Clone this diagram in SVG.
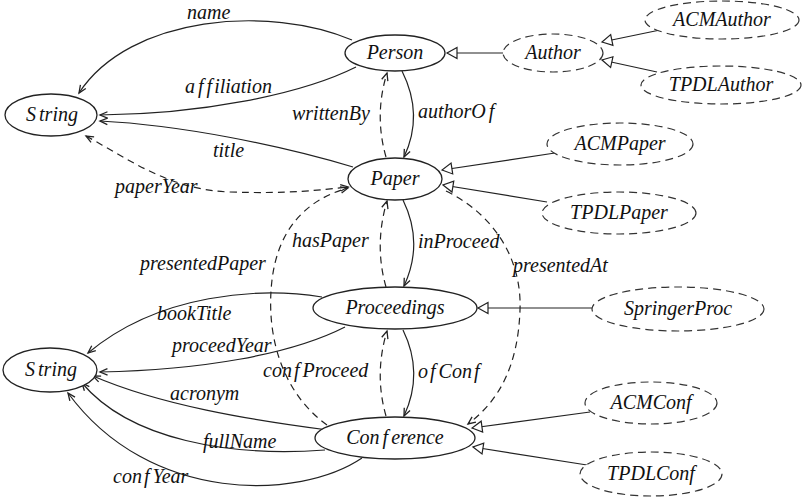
<svg xmlns="http://www.w3.org/2000/svg" width="802" height="498" viewBox="0 0 802 498">
<defs>
<style>
.n{fill:#fff;stroke:#222;stroke-width:1.3}
.d{fill:#fff;stroke:#333;stroke-width:1.2;stroke-dasharray:8 5}
.t{font-family:"Liberation Serif","Times New Roman",serif;font-style:italic;font-size:20px;fill:#111}
.e{fill:none;stroke:#222;stroke-width:1.2}
.ed{fill:none;stroke:#222;stroke-width:1.2;stroke-dasharray:7 5}
.a{marker-end:url(#arr)}
.s{marker-end:url(#tri)}
</style>
<marker id="arr" viewBox="-10 -6 12 12" refX="0" refY="0" markerWidth="12" markerHeight="12" markerUnits="userSpaceOnUse" orient="auto-start-reverse">
<path d="M-7.5,-3.2 L0,0 L-7.5,3.2" fill="none" stroke="#222" stroke-width="1.3" stroke-dasharray="none"/>
</marker>
<marker id="tri" viewBox="-12 -7 14 14" refX="0" refY="0" markerWidth="14" markerHeight="14" markerUnits="userSpaceOnUse" orient="auto">
<path d="M0,0 L-10,-5.5 L-10,5.5 Z" fill="#fff" stroke="#222" stroke-width="1.2" stroke-dasharray="none"/>
</marker>
</defs>
<rect width="802" height="498" fill="#fff"/>
<g id="connectors">
<path class="e a" d="M352 40 C270 5,130 15,79 93"/>
<path class="e a" d="M356 67 C300 95,200 114,100 115"/>
<path class="e a" d="M353 167 C280 145,180 125,100 121"/>
<path class="ed a" style="marker-start:url(#arr)" d="M86 136 C130 160,170 190,230 192 S320 190,348 187"/>
<path class="ed a" d="M386 157 Q374 115 387 73"/>
<path class="e a" d="M402 71 Q424 115 404 157"/>
<path class="e s" d="M503 53 L447 53"/>
<path class="e s" d="M660 30 L602 42"/>
<path class="e s" d="M657 72 L602 60"/>
<path class="e s" d="M555 153 L442 170"/>
<path class="e s" d="M547 202 L443 185"/>
<path class="ed a" d="M327 425 C285 395,265 340,272 280 C278 230,305 200,348 188"/>
<path class="ed a" d="M446 191 C495 215,522 260,520 310 C518 365,500 400,468 424"/>
<path class="ed a" d="M386 287 Q374 245 387 201"/>
<path class="e a" d="M403 200 Q424 243 404 286"/>
<path class="e s" d="M592 308 L478 308"/>
<path class="ed a" d="M386 416 Q374 374 387 331"/>
<path class="e a" d="M403 330 Q424 373 404 416"/>
<path class="e s" d="M590 412 L472 428"/>
<path class="e s" d="M587 465 L473 447"/>
<path class="e a" d="M322 297 C260 287,160 293,88 353"/>
<path class="e a" d="M345 327 C290 355,200 370,100 372"/>
<path class="e a" d="M328 430 C250 420,160 405,93 376"/>
<path class="e a" d="M325 450 C230 457,130 440,82 383"/>
<path class="e a" d="M362 458 C300 500,150 505,68 393"/>
</g>
<g id="edge-labels" class="t">
<text x="187" y="19">name</text>
<text x="185" y="93">a<tspan dx="3">f</tspan><tspan dx="3">f</tspan><tspan dx="2">iliation</tspan></text>
<text x="292" y="120">writtenBy</text>
<text x="418" y="118">authorO<tspan dx="3">f</tspan></text>
<text x="213" y="157">title</text>
<text x="115" y="193">paperYear</text>
<text x="292" y="247">hasPaper</text>
<text x="418" y="248">inProceed</text>
<text x="140" y="270">presentedPaper</text>
<text x="513" y="272">presentedAt</text>
<text x="157" y="320">bookTitle</text>
<text x="172" y="352">proceedYear</text>
<text x="263" y="377">con<tspan dx="2">f</tspan><tspan dx="3">Proceed</tspan></text>
<text x="418" y="378">o<tspan dx="2">f</tspan><tspan dx="3">Con</tspan><tspan dx="2">f</tspan></text>
<text x="170" y="400">acronym</text>
<text x="203" y="448">fullName</text>
<text x="113" y="483">con<tspan dx="2">f</tspan><tspan dx="3">Year</tspan></text>
</g>
<g id="person"><ellipse class="n" cx="395" cy="53" rx="50" ry="18"/><text class="t" x="395" y="59" text-anchor="middle">Person</text></g>
<g id="string1"><ellipse class="n" cx="51" cy="115" rx="46" ry="21"/><text class="t" x="52" y="121" text-anchor="middle">S<tspan dx="3">tring</tspan></text></g>
<g id="paper"><ellipse class="n" cx="395" cy="179" rx="47" ry="21"/><text class="t" x="395" y="185" text-anchor="middle">Paper</text></g>
<g id="proceedings"><ellipse class="n" cx="395" cy="308" rx="82" ry="21"/><text class="t" x="395" y="314" text-anchor="middle">Proceedings</text></g>
<g id="string2"><ellipse class="n" cx="50" cy="370" rx="47" ry="22"/><text class="t" x="51" y="376" text-anchor="middle">S<tspan dx="3">tring</tspan></text></g>
<g id="conference"><ellipse class="n" cx="395" cy="438" rx="80" ry="21"/><text class="t" x="395" y="444" text-anchor="middle">Con<tspan dx="3">f</tspan><tspan dx="3">erence</tspan></text></g>
<g id="author"><ellipse class="d" cx="553" cy="53" rx="50" ry="19"/><text class="t" x="553" y="59" text-anchor="middle">Author</text></g>
<g id="acmauthor"><ellipse class="d" cx="722" cy="20" rx="77" ry="19"/><text class="t" x="722" y="26" text-anchor="middle">ACMAuthor</text></g>
<g id="tpdlauthor"><ellipse class="d" cx="721" cy="85" rx="80" ry="19"/><text class="t" x="721" y="91" text-anchor="middle">TPDLAuthor</text></g>
<g id="acmpaper"><ellipse class="d" cx="620" cy="144" rx="73" ry="21"/><text class="t" x="620" y="150" text-anchor="middle">ACMPaper</text></g>
<g id="tpdlpaper"><ellipse class="d" cx="619" cy="213" rx="77" ry="21"/><text class="t" x="619" y="219" text-anchor="middle">TPDLPaper</text></g>
<g id="springerproc"><ellipse class="d" cx="678" cy="309" rx="86" ry="22"/><text class="t" x="678" y="315" text-anchor="middle">SpringerProc</text></g>
<g id="acmconf"><ellipse class="d" cx="651" cy="403" rx="66" ry="21"/><text class="t" x="651" y="409" text-anchor="middle">ACMConf</text></g>
<g id="tpdlconf"><ellipse class="d" cx="651" cy="474" rx="71" ry="22"/><text class="t" x="651" y="480" text-anchor="middle">TPDLConf</text></g>
</svg>
